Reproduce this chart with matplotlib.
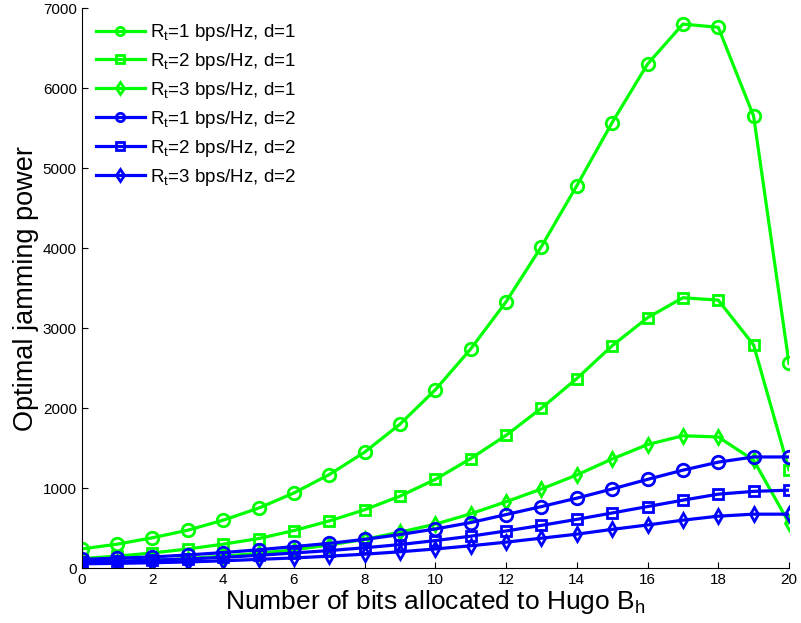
import numpy as np
import matplotlib
matplotlib.use("Agg")
from matplotlib import pyplot as plt

plt.rcParams['font.family'] = ['Liberation Sans', 'DejaVu Sans']
plt.rcParams['mathtext.default'] = 'regular'

bits = np.arange(0, 21)

# d = 1
rt1_d1 = [240, 300, 380, 475, 600, 750, 940, 1170, 1450, 1800, 2230, 2740,
          3330, 4020, 4780, 5570, 6300, 6800, 6760, 5650, 2560]
rt2_d1 = [120, 150, 190, 240, 300, 370, 470, 590, 730, 900, 1110, 1370,
          1660, 2000, 2370, 2780, 3130, 3380, 3350, 2790, 1230]
rt3_d1 = [60, 75, 95, 120, 150, 185, 230, 290, 360, 450, 550, 680,
          830, 990, 1165, 1365, 1545, 1655, 1640, 1350, 565]
# d = 2
rt1_d2 = [110, 125, 140, 165, 195, 230, 270, 310, 360, 420, 490, 570,
          670, 770, 875, 990, 1110, 1225, 1325, 1390, 1390]
rt2_d2 = [80, 88, 100, 115, 135, 160, 190, 220, 255, 295, 345, 400,
          465, 535, 610, 690, 770, 850, 925, 960, 975]
rt3_d2 = [55, 60, 68, 78, 92, 110, 128, 150, 175, 205, 240, 280,
          325, 375, 425, 485, 540, 600, 650, 675, 675]

series = [rt1_d1, rt2_d1, rt3_d1, rt1_d2, rt2_d2, rt3_d2]
labels = ['$R_t$=1 bps/Hz, d=1', '$R_t$=2 bps/Hz, d=1', '$R_t$=3 bps/Hz, d=1',
          '$R_t$=1 bps/Hz, d=2', '$R_t$=2 bps/Hz, d=2', '$R_t$=3 bps/Hz, d=2']
colors = ['#00ff00'] * 3 + ['#0000ff'] * 3
markers = ['o', 's', 'd'] * 2

fig = plt.figure(figsize=(8.01, 6.23), dpi=100)
ax = fig.add_axes([0.102, 0.088, 0.883, 0.899])

for y, lab, c, m in zip(series, labels, colors, markers):
    ms = 9 if m == 'o' else 7.5
    ax.plot(bits, y, color=c, marker=m, markersize=ms, markerfacecolor='none',
            markeredgewidth=2, linewidth=2.3, label=lab)

ax.set_xlim(0, 20)
ax.set_ylim(0, 7000)
ax.set_xticks(range(0, 21, 2))
ax.set_yticks(range(0, 7001, 1000))
ax.spines['top'].set_visible(False)
ax.spines['right'].set_visible(False)
ax.tick_params(direction='in', labelsize=11, length=4)

ax.set_xlabel('Number of bits allocated to Hugo B$_h$', fontsize=19, labelpad=1)
ax.set_ylabel('Optimal jamming power', fontsize=19.5, labelpad=3)

leg = ax.legend(loc='upper left', frameon=False, fontsize=13.5, handlelength=2.6,
                labelspacing=0.42, borderaxespad=0.3, handletextpad=0.3,
                borderpad=0.45)
for h in leg.legend_handles:
    h.set_markersize(6)

fig.savefig('out.png', dpi=100)
